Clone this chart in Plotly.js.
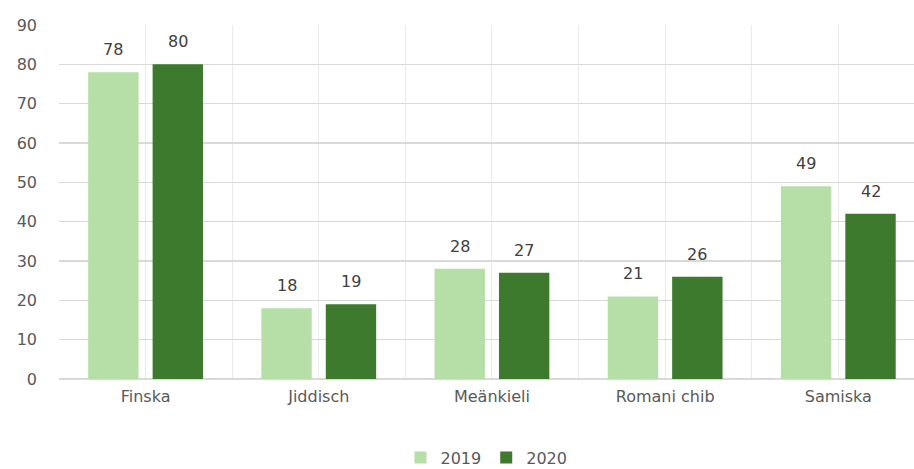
<!DOCTYPE html>
<html>
<head>
<meta charset="utf-8">
<script src="https://cdn.plot.ly/plotly-3.0.1.min.js"></script>
<style>
html,body{margin:0;padding:0;background:#fff;}
#chart{width:914px;height:469px;}
</style>
</head>
<body>
<div id="chart"></div>
<script>
const categories = ["Finska", "Jiddisch", "Meänkieli", "Romani chib", "Samiska"];
const values2019 = [78, 18, 28, 21, 49];
const values2020 = [80, 19, 27, 26, 42];
const seriesNames = ["2019", "2020"];
const yTicks = [0, 10, 20, 30, 40, 50, 60, 70, 80, 90];

const xPos = categories.map((c, i) => i);
const gridVals = [];
const gridText = [];
for (let i = 0; i < categories.length; i++) {
  gridVals.push(i - 0.5); gridText.push("");
  gridVals.push(i); gridText.push(categories[i]);
}
gridVals.push(categories.length - 0.5); gridText.push("");

const font = "DejaVu Sans, sans-serif";
const barOffset = 0.186;

const traces = [
  {
    type: "bar", name: seriesNames[0], x: xPos, y: values2019,
    marker: {color: "#b5dfa7"}, hoverinfo: "y"
  },
  {
    type: "bar", name: seriesNames[1], x: xPos, y: values2020,
    marker: {color: "#3d7a2e"}, hoverinfo: "y"
  }
];

const annotations = [];
[values2019, values2020].forEach((vals, s) => {
  vals.forEach((v, i) => {
    annotations.push({
      x: xPos[i] + (s === 0 ? -barOffset : barOffset), y: v,
      xref: "x", yref: "y", text: String(v), showarrow: false,
      yanchor: "bottom", yshift: 11,
      font: {family: font, size: 16, color: "#404040"}
    });
  });
});

const layout = {
  width: 914, height: 469,
  margin: {l: 59, r: 0, t: 25, b: 90, autoexpand: false},
  paper_bgcolor: "#ffffff", plot_bgcolor: "#ffffff",
  font: {family: font, size: 16, color: "#595959"},
  barmode: "group", bargap: 0.256, bargroupgap: 0.218,
  showlegend: true,
  legend: {orientation: "h", x: 0.5, xanchor: "center", y: -0.222, yanchor: "middle",
           font: {family: font, size: 16, color: "#595959"}},
  annotations: annotations,
  xaxis: {
    range: [-0.5, 4.437], tickmode: "array", tickvals: gridVals, ticktext: gridText,
    showgrid: true, gridcolor: "#ebebeb", gridwidth: 1,
    zeroline: false, showline: false, ticks: "", ticklabelstandoff: 6,
    tickfont: {family: font, size: 16, color: "#595959"}, fixedrange: true
  },
  yaxis: {
    range: [0, 90], tickmode: "array", tickvals: yTicks,
    showgrid: true, gridcolor: "#d9d9d9", gridwidth: 1.3,
    zeroline: true, zerolinecolor: "#d9d9d9", zerolinewidth: 1.3,
    showline: false, ticks: "", ticklabelstandoff: 21,
    tickfont: {family: font, size: 16, color: "#595959"}, fixedrange: true
  }
};

Plotly.newPlot("chart", traces, layout, {displayModeBar: false, staticPlot: true});
</script>
</body>
</html>
